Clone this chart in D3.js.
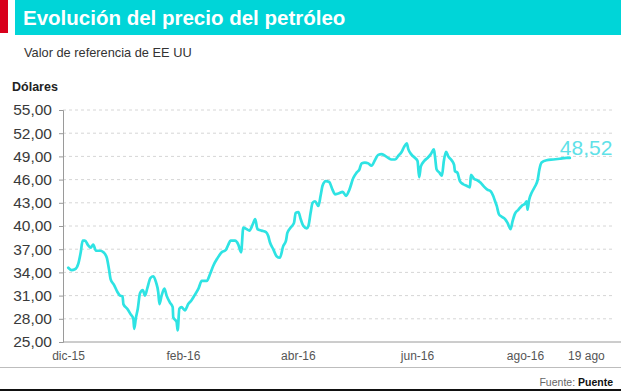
<!DOCTYPE html>
<html><head><meta charset="utf-8">
<script src="https://cdn.jsdelivr.net/npm/d3@7"></script>
<style>
html,body{margin:0;padding:0;background:#fff;}
svg{display:block;}
</style></head>
<body>
<script>
// ---- data (session index since 1 Dec 2015, WTI price in USD) ----
const sesion = [0.1,1.3,2.5,3.7,4.6,5.3,6.1,7.3,8.2,9.1,10.1,11.6,12.8,14.0,14.8,15.4,16.6,17.8,18.8,19.7,20.0,21.4,22.6,23.6,23.9,24.5,25.2,26.0,27.0,27.8,28.6,29.8,30.8,31.8,32.6,33.0,33.8,34.8,35.6,36.8,37.8,38.0,39.2,39.6,40.2,41.0,42.2,43.4,44.6,45.8,47.1,48.3,50.1,51.3,52.5,53.9,55.5,57.0,57.9,58.7,60.3,61.5,62.5,63.3,64.5,65.5,66.7,67.6,68.4,69.9,71.5,72.3,72.9,74.1,75.3,76.5,77.7,78.7,79.2,80.4,81.6,82.2,83.2,84.0,85.0,86.2,86.8,87.6,88.3,89.2,90.4,91.2,91.9,93.1,94.3,95.5,96.4,97.6,
  99.2,100.4,101.6,103.0,104.2,105.2,106.0,107.2,108.4,109.6,110.8,112.0,113.2,114.4,115.6,116.8,118.1,119.3,120.5,121.3,122.3,122.9,124.1,125.3,126.2,126.8,127.4,128.6,129.8,131.0,132.1,132.5,133.1,134.1,135.0,135.7,136.5,137.3,138.5,139.4,139.7,140.6,141.5,142.7,143.9,145.1,145.5,146.6,147.8,149.0,150.2,151.4,152.6,153.5,154.2,154.8,155.6,156.6,157.8,158.7,159.8,160.5,161.4,162.6,163.8,165.0,165.6,165.9,166.5,167.4,168.6,169.6,170.2,171.0,172.8,175.2,177.6,180.0,181.2];
const precio = [34.6,34.3,34.4,35.1,36.6,38.1,38.1,37.5,37.2,37.6,36.8,36.8,36.6,35.9,34.4,33.1,32.4,31.5,31.0,30.9,29.9,29.3,28.6,28.0,26.7,28.1,29.3,31.3,31.7,31.0,31.9,33.3,33.5,32.7,31.4,29.9,31.0,31.9,31.0,30.1,29.5,28.2,27.6,26.5,29.3,29.5,29.1,29.9,30.4,31.1,31.9,32.9,32.9,33.8,34.9,35.8,36.6,36.9,37.6,38.1,38.1,37.6,36.6,39.8,39.6,39.4,40.2,40.9,39.6,39.4,39.2,38.7,37.9,37.0,36.1,35.9,37.4,38.1,39.1,39.8,40.4,41.7,41.8,40.9,40.0,39.7,40.0,41.7,43.0,43.2,42.6,43.9,45.2,45.8,45.7,44.7,44.1,44.2,
  44.4,43.9,44.7,46.2,46.9,47.3,48.1,48.2,48.1,47.8,48.5,49.2,49.3,49.1,48.8,48.6,48.6,49.1,49.6,50.2,50.7,49.9,49.2,48.8,48.4,46.3,47.7,48.4,48.8,49.3,49.9,49.0,47.3,46.9,46.5,48.4,49.6,49.0,48.5,47.9,47.1,46.9,45.8,45.4,45.2,45.0,46.6,46.1,45.9,45.6,45.1,44.7,44.5,43.9,43.2,42.6,41.5,41.2,40.9,40.4,39.6,40.6,41.6,42.1,42.6,42.9,43.2,42.1,43.4,44.3,45.1,46.0,47.3,48.2,48.5,48.6,48.7,48.8,48.8];
const valorFinal = 48.52;
const marcasX = [0, 41.5, 83, 126, 165, 187];
const etiquetasX = ["dic-15", "feb-16", "abr-16", "jun-16", "ago-16", "19 ago"];
const marcasY = [25, 28, 31, 34, 37, 40, 43, 46, 49, 52, 55];

const titulo = "Evolución del precio del petróleo";
const subtitulo = "Valor de referencia de EE UU";
const unidad = "Dólares";
const fuente = "Fuente: ";
const fuenteNombre = "Puente";

// ---- layout ----
const W = 621, H = 391;
const axisX = 63, plotRight = 615;
const fmt = v => d3.format(".2f")(v).replace(".", ",");

const svg = d3.select("body").append("svg").attr("width", W).attr("height", H);
svg.append("rect").attr("width", W).attr("height", H).attr("fill", "#fff");

// header
svg.append("rect").attr("x", 0).attr("y", 0).attr("width", 8).attr("height", 33).attr("fill", "#d8001c");
svg.append("rect").attr("x", 15).attr("y", 0).attr("width", W - 15).attr("height", 35).attr("fill", "#00d5d8");
svg.append("text").attr("x", 23).attr("y", 25).text(titulo)
  .attr("fill", "#fff").attr("font-family", "'Liberation Sans Narrow','Arial Narrow','Liberation Sans',Arial,sans-serif")
  .attr("font-weight", "bold").attr("font-size", 20.5);
svg.append("text").attr("x", 24).attr("y", 57).text(subtitulo)
  .attr("fill", "#333").attr("font-family", "'Liberation Sans Narrow','Arial Narrow','Liberation Sans',Arial,sans-serif")
  .attr("font-size", 12.8);
svg.append("text").attr("x", 12).attr("y", 91).text(unidad)
  .attr("fill", "#222").attr("font-family", "'Liberation Sans Narrow','Arial Narrow','Liberation Sans',Arial,sans-serif")
  .attr("font-weight", "bold").attr("font-size", 12.5);

// scales
const x = d3.scaleLinear().domain([0, 197.5]).range([68, plotRight]);
const y = d3.scaleLinear().domain([25, 55]).range([342, 110]);

// gridlines
svg.append("g").selectAll("line").data(marcasY.slice(1)).join("line")
  .attr("x1", axisX).attr("x2", plotRight)
  .attr("y1", d => y(d)).attr("y2", d => y(d))
  .attr("stroke", "#d6d6d6").attr("stroke-width", 1).attr("stroke-dasharray", "3,3");

// y axis
const gy = svg.append("g").attr("transform", `translate(${axisX},0)`)
  .call(d3.axisLeft(y).tickValues(marcasY).tickFormat(fmt).tickSize(4).tickPadding(7));
gy.select(".domain").attr("stroke", "#9a9a9a");
gy.selectAll(".tick line").attr("stroke", "#9a9a9a");
gy.selectAll("text").attr("font-family", "'Liberation Sans',Arial,sans-serif").attr("font-size", 15.5).attr("fill", "#3a3a3a");

// x axis
svg.append("line").attr("x1", axisX).attr("x2", W).attr("y1", y(25)).attr("y2", y(25)).attr("stroke", "#9a9a9a");
const gx = svg.append("g").attr("transform", `translate(0,${y(25)})`)
  .call(d3.axisBottom(x).tickValues(marcasX).tickFormat((d, i) => etiquetasX[i]).tickSize(0).tickPadding(9));
gx.select(".domain").remove();
gx.selectAll("text").attr("font-family", "'Liberation Sans',Arial,sans-serif").attr("font-size", 12).attr("fill", "#555");

// line
const datos = sesion.map((s, i) => ({s, v: precio[i]}));
svg.append("path").datum(datos)
  .attr("d", d3.line().x(d => x(d.s)).y(d => y(d.v)).curve(d3.curveMonotoneX))
  .attr("fill", "none").attr("stroke", "#2ee3e3").attr("stroke-width", 2.7)
  .attr("stroke-linejoin", "round").attr("stroke-linecap", "round");

// end label
const ult = datos[datos.length - 1];
svg.append("text").attr("x", x(ult.s) - 10).attr("y", y(ult.v) - 3).text(fmt(valorFinal))
  .attr("fill", "#5fe1e8").attr("font-family", "'Liberation Sans',Arial,sans-serif").attr("font-size", 21);

// footer
svg.append("line").attr("x1", 0).attr("x2", W).attr("y1", 367.5).attr("y2", 367.5).attr("stroke", "#bdbdbd");
const ft = svg.append("text").attr("x", 613).attr("y", 386).attr("text-anchor", "end")
  .attr("font-family", "'Liberation Sans Narrow','Arial Narrow','Liberation Sans',Arial,sans-serif").attr("font-size", 10.5);
ft.append("tspan").text(fuente).attr("fill", "#666");
ft.append("tspan").text(fuenteNombre).attr("fill", "#111").attr("font-weight", "bold");
svg.append("rect").attr("x", 0).attr("y", 389).attr("width", W).attr("height", 2).attr("fill", "#111");
</script>
</body></html>
